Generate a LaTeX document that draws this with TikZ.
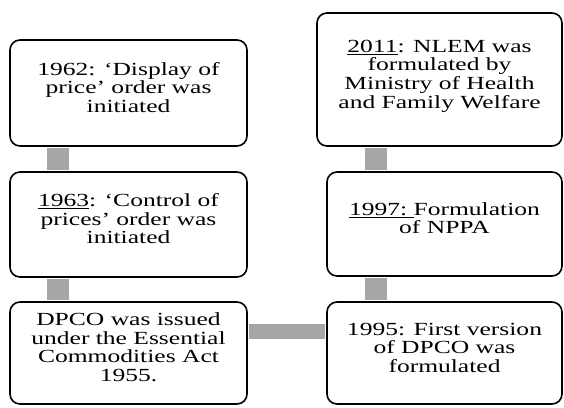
\documentclass[tikz,border=0pt]{standalone}
\usepackage{fontspec}
\setmainfont{Liberation Serif}
\usetikzlibrary{positioning}
\newcommand{\widetext}[1]{\scalebox{1.38}[1]{\begin{tabular}{@{}c@{}}#1\\[6pt]\end{tabular}}}

\begin{document}
\begin{tikzpicture}[x=1pt,y=-1pt,
    event/.style={draw, line width=1.6pt, rounded corners=10pt, minimum width=237pt,
      minimum height=105pt, align=center, inner sep=2pt,
      font=\fontsize{18.5}{18.5}\selectfont},
    link/.style={draw=black!35, line width=22pt, shorten <=0.8pt, shorten >=0.8pt}]
    \fill[white] (0,0) rectangle (564,407);
    \useasboundingbox (0,0) rectangle (564,407);
    % left column
    \node[event, minimum height=106pt] (d62) at (128.5,93) {\widetext{1962: ‘Display of\\price’ order was\\initiated}};
    \node[event] (d63) at (128.5,224.5) {\widetext{\underline{1963}: ‘Control of\\prices’ order was\\initiated}};
    \node[event, minimum height=102pt] (dpco) at (128.5,353) {\widetext{DPCO was issued\\under the Essential\\Commodities Act\\1955.}};
    % right column
    \node[event, minimum width=245pt, minimum height=133pt] (nlem) at (439.5,79.5) {\widetext{\underline{2011}: NLEM was\\formulated by\\Ministry of Health\\and Family Welfare}};
    \node[event, minimum width=235pt, minimum height=104pt] (nppa) at (444.5,224) {\widetext{\underline{1997:\ }Formulation\\of NPPA}};
    \node[event, minimum width=235pt, minimum height=102pt] (v95) at (444.5,353) {\widetext{1995: First version\\of DPCO was\\formulated}};
    % connectors
    \draw[link] ([xshift=49pt]d62.south west) -- ([xshift=49pt]d63.north west);
    \draw[link] ([xshift=49pt]d63.south west) -- ([xshift=49pt]dpco.north west);
    \draw[link, line width=15pt] ([yshift=21.5pt]dpco.east) -- ([yshift=21.5pt]v95.west);
    \draw[link] ([xshift=59.5pt]nlem.south west) -- ([xshift=49.5pt]nppa.north west);
    \draw[link] ([xshift=49.5pt]nppa.south west) -- ([xshift=49.5pt]v95.north west);
\end{tikzpicture}
\end{document}
